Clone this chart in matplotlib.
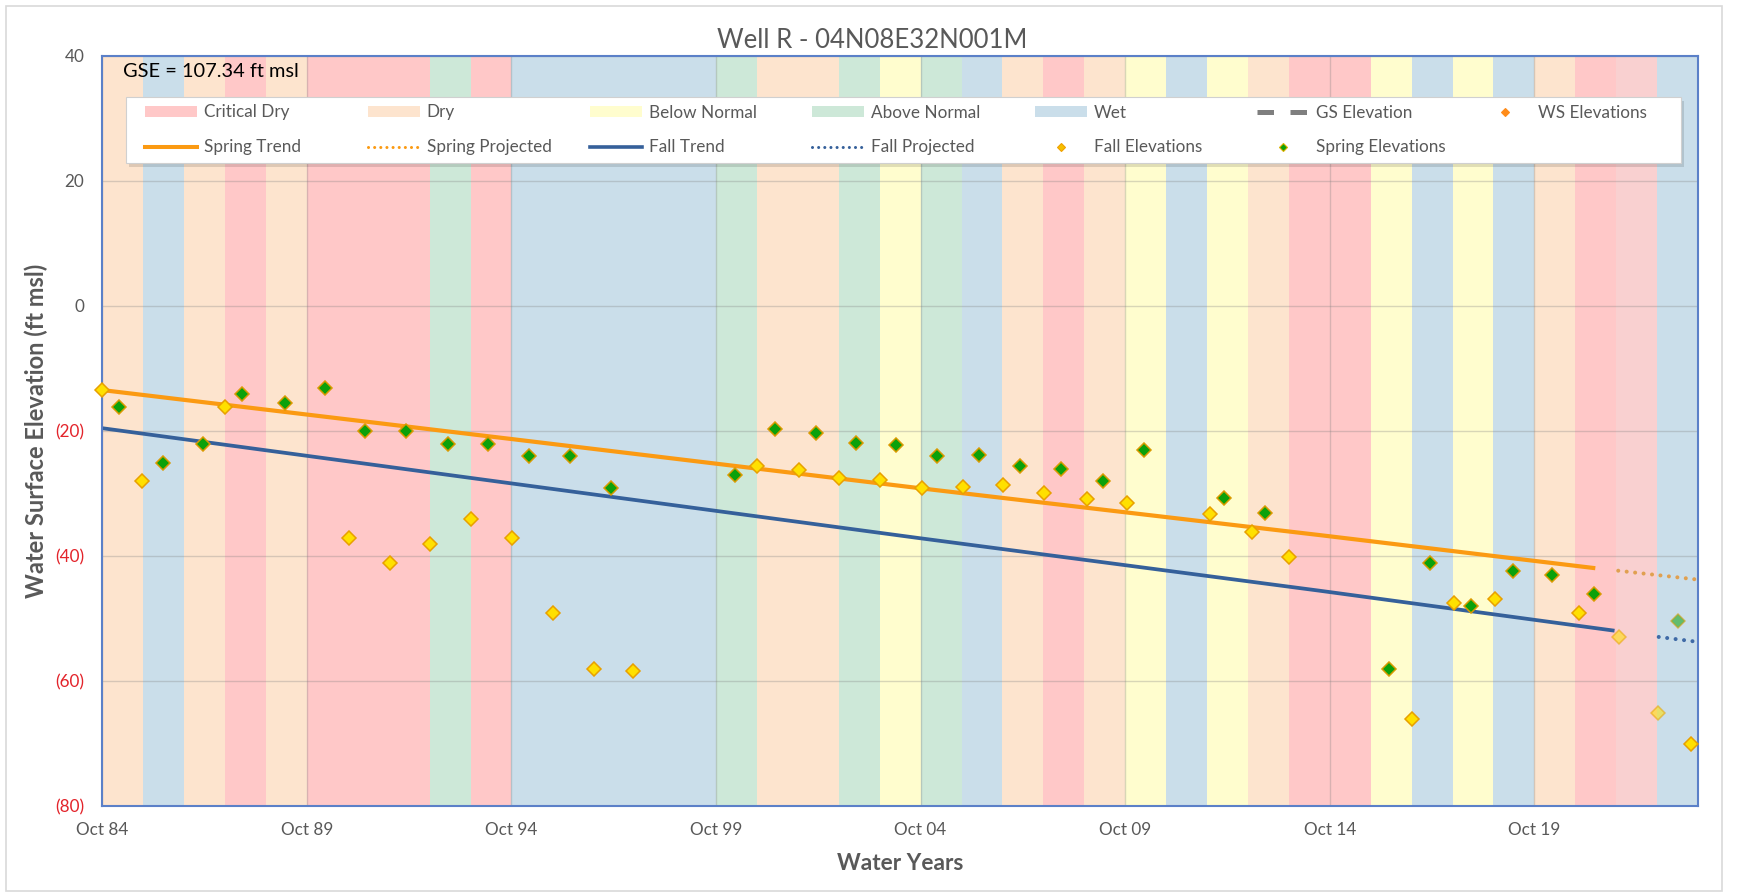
import matplotlib
matplotlib.use("Agg")
import matplotlib.pyplot as plt
from matplotlib.patches import Patch, Rectangle
from matplotlib.lines import Line2D
from matplotlib.ticker import FixedLocator, FuncFormatter
import numpy as np

plt.rcParams['font.family'] = ['Lato', 'DejaVu Sans']

# ---------------- data ----------------
title = "Well R - 04N08E32N001M"
gse_label = "GSE = 107.34 ft msl"
gse_value = 107.34

water_years = list(range(1985, 2024))
year_types = ["D", "W", "D", "C", "D", "C", "C", "C", "AN", "C",
              "W", "W", "W", "W", "W", "AN", "D", "D", "AN", "BN",
              "AN", "W", "D", "C", "D", "BN", "W", "BN", "D", "C",
              "C", "BN", "W", "BN", "W", "D", "C", "C", "W"]
lighter_years = [2022]

type_names = {"C": "Critical Dry", "D": "Dry", "BN": "Below Normal",
              "AN": "Above Normal", "W": "Wet"}

fall_dates = [1984.75, 1985.73, 1987.76, 1990.77, 1991.78, 1992.76, 1993.77,
              1994.77, 1995.77, 1996.76, 1997.72, 2000.75, 2001.77, 2002.75,
              2003.76, 2004.78, 2005.79, 2006.76, 2007.77, 2008.82, 2009.80,
              2011.82, 2012.84, 2013.75, 2016.75, 2017.78, 2018.78, 2020.83,
              2023.58]
fall_values = [-13.5, -28.1, -16.2, -37.1, -41.1, -38.1, -34.1,
               -37.1, -49.1, -58.1, -58.5, -25.7, -26.3, -27.5,
               -27.9, -29.2, -29.0, -28.7, -29.9, -31.0, -31.5,
               -33.4, -36.2, -40.2, -66.1, -47.5, -47.0, -49.1,
               -70.2]

spring_dates = [1985.17, 1986.24, 1987.22, 1988.16, 1989.21, 1990.19, 1991.17,
                1992.18, 1993.19, 1994.17, 1995.18, 1996.19, 1997.18, 2000.21,
                2001.18, 2002.20, 2003.16, 2004.16, 2005.15, 2006.18, 2007.19,
                2008.18, 2009.22, 2010.20, 2012.16, 2013.17, 2016.19, 2017.21,
                2018.19, 2019.24, 2020.19, 2021.22]
spring_values = [-16.2, -25.1, -22.1, -14.1, -15.5, -13.1, -20.1,
                 -20.1, -22.1, -22.1, -24.1, -24.1, -29.1, -27.1,
                 -19.7, -20.4, -21.9, -22.3, -24.1, -23.9, -25.7,
                 -26.1, -28.0, -23.1, -30.7, -33.1, -58.1, -41.1,
                 -48.1, -42.5, -43.1, -46.1]

recent_fall_dates = [2021.81, 2022.78]
recent_fall_values = [-53.0, -65.1]
recent_spring_dates = [2023.26]
recent_spring_values = [-50.4]

spring_trend_dates = [1984.75, 1994.71, 2004.73, 2014.50, 2021.24]
spring_trend_values = [-13.5, -21.3, -29.2, -36.7, -42.0]
fall_trend_dates = [1984.75, 1994.71, 2004.73, 2014.50, 2021.71]
fall_trend_values = [-19.6, -28.4, -37.2, -45.6, -52.0]

spring_proj_dates = [2021.80, 2023.71]
spring_proj_values = [-42.4, -43.8]
fall_proj_dates = [2022.79, 2023.64]
fall_proj_values = [-53.0, -53.7]

xtick_dates = [1984.75, 1989.75, 1994.75, 1999.75, 2004.75, 2009.75, 2014.75, 2019.75]
xtick_labels = ["Oct 84", "Oct 89", "Oct 94", "Oct 99", "Oct 04", "Oct 09", "Oct 14", "Oct 19"]
yticks = [40, 20, 0, -20, -40, -60, -80]

# ---------------- style ----------------
W, H, DPI = 1738, 893, 100
type_colors = {"C": "#FFC8C8", "D": "#FDE4CE", "BN": "#FFFDCE",
               "AN": "#CDE8D8", "W": "#CADEEA"}
lighter_crit = "#F9D0D0"
orange = "#FB9A12"
orange_proj = "#E0A050"
blue = "#35609A"
blue_proj = "#3F6AA6"
fall_face, fall_edge = "#FFE000", "#E8A000"
spring_face, spring_edge = "#0BA10B", "#D99A00"
gray_txt = "#595959"
red_txt = "#E3242B"

fig = plt.figure(figsize=(W / DPI, H / DPI), dpi=DPI)
fig.patch.set_facecolor("white")

# outer chart border
fig.add_artist(Rectangle((6 / W, 1 - 891 / H), (1722 - 6) / W, (891 - 6) / H,
                         transform=fig.transFigure, fill=False,
                         edgecolor="#D9D9D9", lw=1.2, zorder=0))

ax_l, ax_r, ax_t, ax_b = 102.3, 1698.0, 55.7, 805.7
ax = fig.add_axes([ax_l / W, 1 - ax_b / H, (ax_r - ax_l) / W, (ax_b - ax_t) / H])
ax.set_xlim(1984.75, 2023.75)
ax.set_ylim(-80, 40)

# water-year type bands
ymin, ymax = ax.get_ylim()
band_colors = []
for wy, t in zip(water_years, year_types):
    c = type_colors[t]
    if wy in lighter_years and t == "C":
        c = lighter_crit
    band_colors.append(c)
ax.bar(np.array(water_years) - 0.25, ymax - ymin, bottom=ymin, width=1.0,
       align="edge", color=band_colors, linewidth=0, zorder=0)

# grid
ax.set_axisbelow(True)
ax.grid(True, color="#7F7F7F", alpha=0.3, lw=1.0)

# GS elevation (off-scale)
ax.axhline(gse_value, color="#7F7F7F", lw=3.6, ls=(0, (3.3, 3.3)))

# trends
ax.plot(spring_trend_dates, spring_trend_values, color=orange, lw=3.0,
        solid_capstyle="butt", zorder=2)
ax.plot(fall_trend_dates, fall_trend_values, color=blue, lw=2.7,
        solid_capstyle="butt", zorder=2)
ax.plot(spring_proj_dates, spring_proj_values, color=orange_proj, lw=2.9,
        ls=(0, (0.01, 2.1)), dash_capstyle="round", zorder=2)
ax.plot(fall_proj_dates, fall_proj_values, color=blue_proj, lw=2.9,
        ls=(0, (0.01, 2.1)), dash_capstyle="round", zorder=2)

# points
mk = dict(ls="none", marker="D", ms=7.5, mew=1.1, zorder=4, clip_on=False)
ax.plot(fall_dates, fall_values, mfc=fall_face, mec=fall_edge, **mk)
ax.plot(spring_dates, spring_values, mfc=spring_face, mec=spring_edge, **mk)
ax.plot(recent_fall_dates, recent_fall_values, mfc=fall_face, mec=fall_edge,
        alpha=0.55, **mk)
ax.plot(recent_spring_dates, recent_spring_values, mfc=spring_face,
        mec=spring_edge, alpha=0.55, **mk)

# axes styling
for s in ax.spines.values():
    s.set_color("#5B80C8")
    s.set_linewidth(1.5)
ax.xaxis.set_major_locator(FixedLocator(xtick_dates))
ax.set_xticklabels(xtick_labels)
ax.yaxis.set_major_locator(FixedLocator(yticks))
ax.yaxis.set_major_formatter(FuncFormatter(
    lambda v, p: f"({abs(v):.0f})" if v < 0 else f"{v:.0f}"))
ax.tick_params(axis="both", length=0, labelsize=12.3, labelcolor=gray_txt)
ax.tick_params(axis="x", pad=12)
ax.tick_params(axis="y", pad=13)
fig.canvas.draw()
for lab, v in zip(ax.get_yticklabels(), yticks):
    if v < 0:
        lab.set_color(red_txt)

ax.set_xlabel("Water Years", fontsize=16.3, fontweight="bold", color=gray_txt)
ax.xaxis.set_label_coords(0.5, (ax_b - 864) / (ax_b - ax_t))
ax.xaxis.label.set_va("center")
ax.set_ylabel("Water Surface Elevation (ft msl)", fontsize=17,
              fontweight="bold", color=gray_txt)
ax.yaxis.set_label_coords((36 - ax_l) / (ax_r - ax_l), 0.5)
ax.yaxis.label.set_va("center")

fig.text(872 / W, 1 - 41 / H, title, ha="center", va="center",
         fontsize=18.5, color=gray_txt)
fig.text(123 / W, 1 - 71.7 / H, gse_label, ha="left", va="center",
         fontsize=14.4, color="black", zorder=6)

# ---------------- legend ----------------
lg_l, lg_r, lg_t, lg_b = 125.5, 1680.8, 96.7, 163.3
fig.add_artist(Rectangle(((lg_l + 3) / W, 1 - (lg_b + 4) / H), (lg_r - lg_l) / W,
                         (lg_b - lg_t) / H, transform=fig.transFigure,
                         facecolor="black", alpha=0.12, lw=0, zorder=3))
fig.add_artist(Rectangle((lg_l / W, 1 - lg_b / H), (lg_r - lg_l) / W,
                         (lg_b - lg_t) / H, transform=fig.transFigure,
                         facecolor="white", edgecolor="#D0D0D0", lw=0.8, zorder=3.1))

def patch(t):
    return Patch(facecolor=type_colors[t], edgecolor="none", label=type_names[t])

h_spring_trend = Line2D([], [], color=orange, lw=2.9, label="Spring Trend")
h_spring_proj = Line2D([], [], color=orange, lw=2.2, ls=(0, (0.01, 2.0)),
                       dash_capstyle="round", label="Spring Projected")
h_fall_trend = Line2D([], [], color=blue, lw=2.6, label="Fall Trend")
h_fall_proj = Line2D([], [], color=blue, lw=2.2, ls=(0, (0.01, 2.0)),
                     dash_capstyle="round", label="Fall Projected")
h_gs = Line2D([], [], color="#7F7F7F", lw=3.6, ls=(0, (3.3, 3.3)), label="GS Elevation")
h_fall = Line2D([], [], ls="none", marker="D", ms=4.2, mfc="#F5C000",
                mec="#F0A000", mew=0.8, label="Fall Elevations")
h_spring = Line2D([], [], ls="none", marker="D", ms=4.2, mfc=spring_face,
                  mec="#E0B000", mew=0.8, label="Spring Elevations")
h_ws = Line2D([], [], ls="none", marker="D", ms=4.2, mfc="#FF8C1A",
              mec="#FF8C1A", mew=0.8, label="WS Elevations")

columns = [[patch("C"), h_spring_trend], [patch("D"), h_spring_proj],
           [patch("BN"), h_fall_trend], [patch("AN"), h_fall_proj],
           [patch("W"), h_fall], [h_gs, h_spring], [h_ws]]

col_x0, col_pitch = 145.4, 222.3
leg_fs = 12.3
fs_px = leg_fs * DPI / 72
for i, hs in enumerate(columns):
    lg = fig.legend(handles=hs, loc="upper left",
                    bbox_to_anchor=((col_x0 + i * col_pitch) / W, 1 - 104.5 / H),
                    bbox_transform=fig.transFigure, frameon=False,
                    borderaxespad=0, borderpad=0, fontsize=leg_fs,
                    handlelength=52 / fs_px, handleheight=0.6,
                    handletextpad=7 / fs_px, labelspacing=1.1,
                    labelcolor=gray_txt)
    lg.set_zorder(5)

fig.savefig("out.png", dpi=DPI, facecolor="white")
